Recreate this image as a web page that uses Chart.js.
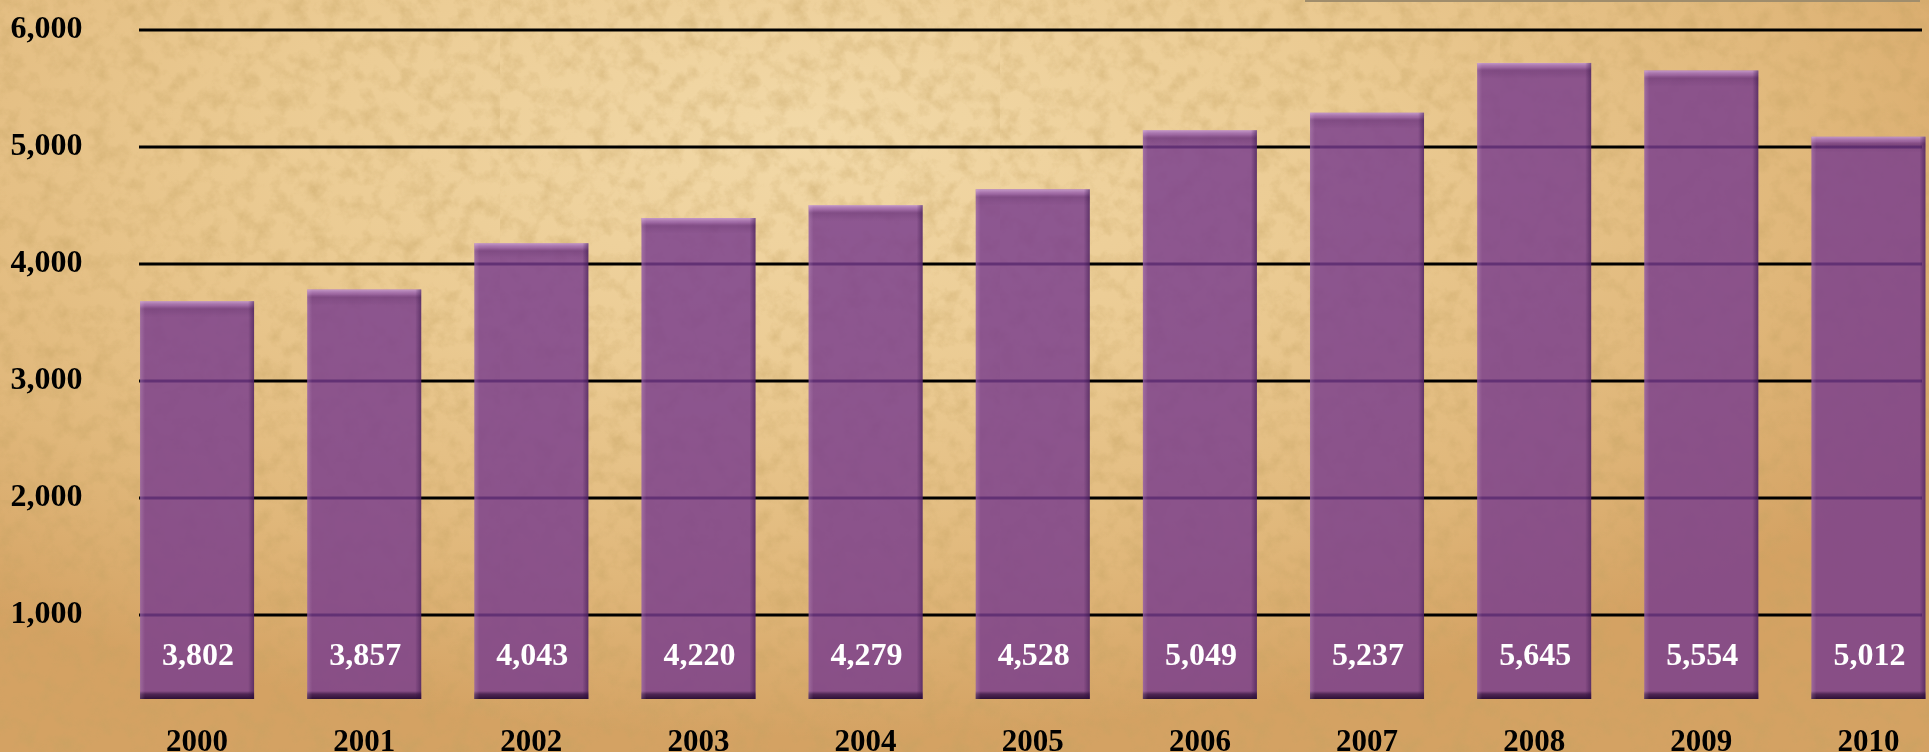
<!DOCTYPE html>
<html>
<head>
<meta charset="utf-8">
<title>Yearly totals 2000-2010</title>
<script src="https://cdn.jsdelivr.net/npm/chart.js@4"></script>
<style>
    html, body { margin: 0; padding: 0; width: 1929px; height: 752px; overflow: hidden; }
    body {
        position: relative;
        background:
            url("data:image/svg+xml;utf8,<svg xmlns='http://www.w3.org/2000/svg' width='500' height='500'><filter id='n'><feTurbulence type='fractalNoise' baseFrequency='0.055' numOctaves='5' seed='7'/><feColorMatrix values='0 0 0 0 0.55  0 0 0 0 0.36  0 0 0 0 0.12  0.9 0 0 0 -0.38'/></filter><rect width='100%' height='100%' filter='url(%23n)'/></svg>"),
            radial-gradient(ellipse 70% 80% at 42% 18%, #f2d9a8 0%, #ebcb93 40%, #e0b77a 75%, #d4a263 100%);
    }
    #topRule { position: absolute; left: 1305px; top: 0; width: 615px; height: 2px; background: #a08d6c; }
    #wrap { position: absolute; left: 0; top: 0; width: 1952px; height: 752px; }
</style>
</head>
<body>
<div id="topRule"></div>
<div id="wrap"><canvas id="yearChart"></canvas></div>
<script>
const years = ['2000', '2001', '2002', '2003', '2004', '2005', '2006', '2007', '2008', '2009', '2010'];
// bar heights as read against the axis
const barValues = [3680, 3780, 4175, 4390, 4500, 4635, 5140, 5290, 5715, 5650, 5085];
// numbers printed inside the bars
const valueLabels = ['3,802', '3,857', '4,043', '4,220', '4,279', '4,528', '5,049', '5,237', '5,645', '5,554', '5,012'];
const yTicks = [1000, 2000, 3000, 4000, 5000, 6000];
const yMin = 283;
const yMax = 6000;

const serif = "'Liberation Serif', 'DejaVu Serif', serif";

// black rules behind the bars, shorter than the plot area
const gridRules = {
    id: 'gridRules',
    beforeDatasetsDraw(chart) {
        const { ctx } = chart;
        const y = chart.scales.y;
        ctx.save();
        ctx.strokeStyle = '#000';
        ctx.lineWidth = 3;
        yTicks.forEach(v => {
            const py = Math.round(y.getPixelForValue(v));
            ctx.beginPath();
            ctx.moveTo(139, py);
            ctx.lineTo(1922, py);
            ctx.stroke();
        });
        ctx.restore();
    }
};

// bevel shading + white numbers on each bar
const barDecor = {
    id: 'barDecor',
    afterDatasetsDraw(chart) {
        const { ctx } = chart;
        const meta = chart.getDatasetMeta(0);
        ctx.save();
        meta.data.forEach((bar, i) => {
            const l = bar.x - bar.width / 2, r = bar.x + bar.width / 2;
            const t = bar.y, b = bar.base, w = bar.width;

            let g = ctx.createLinearGradient(0, t, 0, t + 16);
            g.addColorStop(0, 'rgba(235,200,240,0.6)');
            g.addColorStop(0.3, 'rgba(200,150,210,0.25)');
            g.addColorStop(0.5, 'rgba(60,20,70,0.15)');
            g.addColorStop(1, 'rgba(60,20,70,0)');
            ctx.fillStyle = g;
            ctx.fillRect(l, t, w, 16);

            g = ctx.createLinearGradient(0, b - 8, 0, b);
            g.addColorStop(0, 'rgba(40,10,50,0)');
            g.addColorStop(0.4, 'rgba(40,10,50,0.6)');
            g.addColorStop(1, 'rgba(30,5,40,0.85)');
            ctx.fillStyle = g;
            ctx.fillRect(l, b - 8, w, 8);

            g = ctx.createLinearGradient(r - 6, 0, r, 0);
            g.addColorStop(0, 'rgba(40,10,60,0)');
            g.addColorStop(1, 'rgba(40,10,60,0.45)');
            ctx.fillStyle = g;
            ctx.fillRect(r - 6, t, 6, b - t);

            g = ctx.createLinearGradient(l, 0, l + 5, 0);
            g.addColorStop(0, 'rgba(255,225,255,0.18)');
            g.addColorStop(1, 'rgba(255,225,255,0)');
            ctx.fillStyle = g;
            ctx.fillRect(l, t, 5, b - t);

            ctx.fillStyle = '#fff';
            ctx.font = 'bold 32px ' + serif;
            ctx.textAlign = 'center';
            ctx.textBaseline = 'middle';
            ctx.fillText(valueLabels[i], bar.x + 1, b - 42);
        });
        ctx.restore();
    }
};

new Chart(document.getElementById('yearChart'), {
    type: 'bar',
    data: {
        labels: years,
        datasets: [{
            data: barValues,
            base: yMin,
            backgroundColor: 'rgba(120,60,142,0.82)',
            borderWidth: 0,
            categoryPercentage: 1,
            barPercentage: 0.682
        }]
    },
    options: {
        responsive: true,
        maintainAspectRatio: false,
        animation: false,
        layout: { padding: { top: 29.5, left: 0, right: 0, bottom: 0 } },
        plugins: { legend: { display: false }, tooltip: { enabled: false } },
        scales: {
            x: {
                offset: true,
                grid: { display: false, drawTicks: false },
                border: { display: false },
                ticks: {
                    color: '#000',
                    padding: 25,
                    maxRotation: 0,
                    autoSkip: false,
                    font: { family: serif, size: 31, weight: 'bold' }
                },
                afterFit: s => { s.height = 53; s.paddingLeft = 0; s.paddingRight = 0; }
            },
            y: {
                min: yMin,
                max: yMax,
                grid: { display: false, drawTicks: false },
                border: { display: false },
                ticks: {
                    color: '#000',
                    padding: 31,
                    font: { family: serif, size: 32, weight: 'bold' },
                    callback: v => v.toLocaleString('en-US')
                },
                afterBuildTicks: s => { s.ticks = yTicks.map(v => ({ value: v })); },
                afterFit: s => { s.width = 113.5; s.paddingTop = 0; s.paddingBottom = 0; }
            }
        }
    },
    plugins: [gridRules, barDecor]
});
</script>
</body>
</html>
